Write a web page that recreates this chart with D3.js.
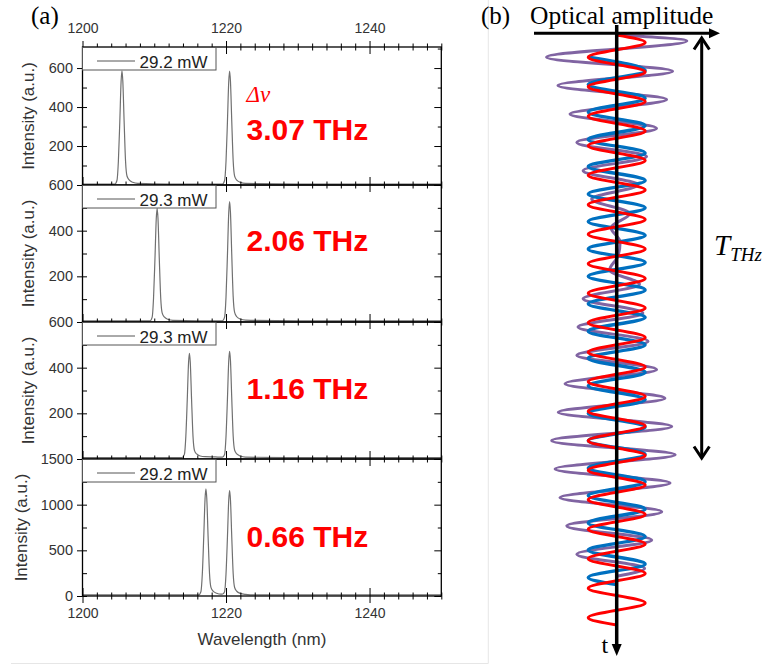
<!DOCTYPE html>
<html><head><meta charset="utf-8">
<script src="https://cdn.jsdelivr.net/npm/d3@7"></script>
<style>body{margin:0;background:#fff}svg{display:block}</style>
</head><body><svg id="c" width="771" height="666"></svg>
<script>
// ================= DATA =================
const xTickLabels = [1200, 1220, 1240];
const powerLabels = ["29.2 mW", "29.3 mW", "29.3 mW", "29.2 mW"];
const deltaLabels = ["3.07 THz", "2.06 THz", "1.16 THz", "0.66 THz"];
const yDomains = [[0, 708], [0, 600], [0, 600], [0, 1500]];
const yMajorTicks = [[0, 200, 400, 600], [0, 200, 400, 600], [0, 200, 400, 600], [0, 500, 1000, 1500]];
const yMinorTicks = [[100, 300, 500, 700], [100, 300, 500], [100, 300, 500], [250, 750, 1250]];
const yShownLabels = [[200, 400, 600], [200, 400, 600], [200, 400, 600], [0, 500, 1000, 1500]];

// spectra: [wavelength nm, intensity a.u.]
const spectrum1 = [[1200,5],[1204.5,5],[1204.8,23],[1205.0,122],[1205.2,327],[1205.38,532],[1205.5,586],[1205.62,532],[1205.8,327],[1206.0,122],[1206.2,46],[1206.5,26],[1207.0,14],[1207.7,8],[1212,5],
  [1219.5,5],[1219.8,23],[1220.0,122],[1220.2,327],[1220.38,531],[1220.5,585],[1220.62,531],[1220.8,327],[1221.0,122],[1221.2,46],[1221.5,25],[1222.0,14],[1222.7,8],[1230,5],[1250,5]];
const spectrum2 = [[1200,5],[1209.4,5],[1209.7,20],[1209.9,105],[1210.1,279],[1210.28,453],[1210.4,498],[1210.52,453],[1210.7,279],[1210.9,105],[1211.1,40],[1211.4,22],[1211.9,12],[1212.6,7],[1216,5],
  [1219.5,5],[1219.8,21],[1220.0,110],[1220.2,295],[1220.38,479],[1220.5,527],[1220.62,479],[1220.8,295],[1221.0,110],[1221.2,42],[1221.5,23],[1222.0,13],[1222.7,8],[1230,5],[1250,5]];
const spectrum3 = [[1200,6],[1213.9,6],[1214.2,20],[1214.4,99],[1214.6,261],[1214.78,423],[1214.9,463],[1215.02,423],[1215.2,261],[1215.4,99],[1215.6,38],[1215.9,22],[1216.4,13],[1217.1,10],[1218.5,9],
  [1219.5,8],[1219.8,20],[1220.0,100],[1220.2,265],[1220.38,430],[1220.5,471],[1220.62,430],[1220.8,265],[1221.0,100],[1221.2,39],[1221.5,22],[1222.0,13],[1222.7,8],[1230,6],[1250,6]];
const spectrum4 = [[1200,12],[1216.2,12],[1216.5,47],[1216.7,246],[1216.9,657],[1217.08,1067],[1217.2,1172],[1217.32,1067],[1217.5,657],[1217.7,246],[1217.9,94],[1218.2,53],[1218.7,30],[1219.3,20],
  [1219.55,22],[1219.8,47],[1220.0,243],[1220.2,647],[1220.38,1051],[1220.5,1154],[1220.62,1051],[1220.8,647],[1221.0,243],[1221.2,93],[1221.5,52],[1222.0,29],[1222.7,18],[1224,12],[1250,12]];
const spectra = [spectrum1, spectrum2, spectrum3, spectrum4];

// panel (b): optical field extrema [time in red optical cycles, amplitude]
const redWave = [[0,0],[0.25,1],[0.75,-1],[1.25,1],[1.75,-1],[2.25,1],[2.75,-1],[3.25,1],[3.75,-1],[4.25,1],[4.75,-1],[5.25,1],[5.75,-1],[6.25,1],[6.75,-1],[7.25,1],[7.75,-1],[8.25,1],[8.75,-1],[9.25,1],[9.75,-1],[10.25,1],[10.75,-1],[11.25,1],[11.75,-1],[12.25,1],[12.75,-1],[13.25,1],[13.75,-1],[14.25,1],[14.75,-1],[15.25,1],[15.75,-1],[16.25,1],[16.75,-1],[17.25,1],[17.75,-1],[18.25,1],[18.75,-1],[19.25,1],[19.75,-1],[20,0]];
const blueWave = [[0.75,-1],[1.21,1],[1.68,-1],[2.14,1],[2.61,-1],[3.07,1],[3.54,-1],[4.00,1],[4.46,-1],[4.93,1],[5.39,-1],[5.86,1],[6.32,-1],[6.79,1],[7.25,-1],[7.71,1],[8.18,-1],[8.64,1],[9.11,-1],[9.57,1],[10.04,-1],[10.50,1],[10.96,-1],[11.43,1],[11.89,-1],[12.36,1],[12.82,-1],[13.29,1],[13.75,-1],[14.21,1],[14.68,-1],[15.14,1],[15.61,-1],[16.07,1],[16.54,-1],[17.00,1],[17.46,-1],[17.93,1],[18.39,-1],[18.63,0]];
const purpleWave = [[0,0],[0.2,2.46],[0.75,-2.46],[1.23,1.96],[1.71,-2.06],[2.19,1.75],[2.68,-1.64],[3.16,1.40],[3.64,-1.40],[4.12,1.05],[4.60,-1.18],[5.08,0.75],[5.56,-0.88],[6.05,0.46],[6.53,-0.2],[7.01,0.12],[7.49,0.05],[7.97,-0.25],[8.45,0.8],[8.94,-1.18],[9.42,0.92],[9.90,-1.36],[10.38,1.1],[10.86,-1.4],[11.34,1.4],[11.82,-1.81],[12.31,1.69],[12.79,-2.05],[13.27,1.93],[13.75,-2.28],[14.23,2.05],[14.71,-2.16],[15.19,1.87],[15.68,-1.99],[16.16,1.58],[16.64,-1.75],[17.12,1.23],[17.60,-1.40],[18.08,0.98],[18.35,0]];

// ================= DRAW =================
const svg = d3.select('#c');
const SANS = "'Liberation Sans', Arial, sans-serif";
const SERIF = "'Liberation Serif', 'Times New Roman', serif";
const plotL = 82.5, plotR = 441.3;
const panelY = [[47, 185], [185, 322], [322, 459], [459, 596]];
const x = d3.scaleLinear().domain([1200, 1250]).range([plotL, plotR]);
const xMinor = x.ticks(25).filter(v => !xTickLabels.includes(v));

// light frame lines of the figure
svg.append('line').attr('x1', 488.3).attr('x2', 488.3).attr('y1', 0).attr('y2', 663.5).attr('stroke', '#e6e6e6');
svg.append('line').attr('x1', 11).attr('x2', 488.3).attr('y1', 663.5).attr('y2', 663.5).attr('stroke', '#e6e6e6');

function styleAxis(g, fs) {
  g.select('.domain').remove();
  g.selectAll('.tick line').attr('stroke', '#000').attr('stroke-width', 1);
  g.selectAll('.tick text').attr('fill', '#333').style('font-family', SANS).style('font-size', fs + 'px');
  g.attr('font-family', null).attr('font-size', null);
}
function addAxis(parent, tr, gen, fs) {
  const g = parent.append('g').attr('transform', tr).call(gen);
  styleAxis(g, fs || 14);
  return g;
}

const specLine = d3.line().x(d => x(d[0])).curve(d3.curveMonotoneX);
const defs = svg.append('defs');

panelY.forEach(([top, bot], i) => {
  const y = d3.scaleLinear().domain(yDomains[i]).range([bot, top]);
  const g = svg.append('g');
  defs.append('clipPath').attr('id', 'clip' + i).append('rect')
    .attr('x', plotL).attr('y', top).attr('width', plotR - plotL).attr('height', bot - top);

  // spectrum
  g.append('path').attr('clip-path', `url(#clip${i})`)
    .attr('d', specLine.y(d => y(d[1]))(spectra[i]))
    .attr('fill', 'none').attr('stroke', '#707070').attr('stroke-width', 1.2);

  // frame
  g.append('rect').attr('x', plotL).attr('y', top).attr('width', plotR - plotL).attr('height', bot - top)
    .attr('fill', 'none').attr('stroke', '#000').attr('stroke-width', 1.3);

  // bottom x ticks (crossing)
  const last = i === 3;
  addAxis(g, `translate(0,${bot})`, d3.axisBottom(x).tickValues(xTickLabels).tickSize(7).tickPadding(5.5)
    .tickFormat(last ? d3.format('d') : () => ''));
  addAxis(g, `translate(0,${bot})`, d3.axisBottom(x).tickValues(xTickLabels).tickSize(-8).tickFormat(() => ''));
  addAxis(g, `translate(0,${bot})`, d3.axisBottom(x).tickValues(xMinor).tickSize(3.5).tickFormat(() => ''));
  addAxis(g, `translate(0,${bot})`, d3.axisBottom(x).tickValues(xMinor).tickSize(-3.5).tickFormat(() => ''));
  if (i === 0) {
    addAxis(g, `translate(0,${top})`, d3.axisTop(x).tickValues(xTickLabels).tickSize(6).tickPadding(7.7).tickFormat(d3.format('d')));
    addAxis(g, `translate(0,${top})`, d3.axisTop(x).tickValues(xTickLabels).tickSize(-7).tickFormat(() => ''));
    addAxis(g, `translate(0,${top})`, d3.axisTop(x).tickValues(xMinor).tickSize(3.5).tickFormat(() => ''));
    addAxis(g, `translate(0,${top})`, d3.axisTop(x).tickValues(xMinor).tickSize(-3.5).tickFormat(() => ''));
  }

  // left y ticks
  const shown = yShownLabels[i];
  addAxis(g, `translate(${plotL},0)`, d3.axisLeft(y).tickValues(yMajorTicks[i]).tickSize(5.5).tickPadding(4)
    .tickFormat(v => shown.includes(v) ? d3.format('d')(v) : ''), 14.5);
  addAxis(g, `translate(${plotL},0)`, d3.axisLeft(y).tickValues(yMajorTicks[i]).tickSize(-4.5).tickFormat(() => ''));
  addAxis(g, `translate(${plotL},0)`, d3.axisLeft(y).tickValues(yMinorTicks[i].filter(v => v <= yDomains[i][1])).tickSize(-4.5).tickFormat(() => ''));
  // right y ticks (inward)
  addAxis(g, `translate(${plotR},0)`, d3.axisRight(y).tickValues(yMajorTicks[i]).tickSize(-7).tickFormat(() => ''));
  addAxis(g, `translate(${plotR},0)`, d3.axisRight(y).tickValues(yMinorTicks[i].filter(v => v <= yDomains[i][1])).tickSize(-3.5).tickFormat(() => ''));

  // legend
  const lg = g.append('g').attr('transform', `translate(${plotL},${top})`);
  lg.append('rect').attr('x', 0).attr('y', 0.5).attr('width', 133.5).attr('height', 22.5)
    .attr('fill', '#fff').attr('stroke', '#555').attr('stroke-width', 1);
  lg.append('line').attr('x1', 14.5).attr('x2', 52.5).attr('y1', 14).attr('y2', 14)
    .attr('stroke', '#555').attr('stroke-width', 1);
  lg.append('text').attr('x', 57).attr('y', 21).text(powerLabels[i])
    .style('font-family', SANS).style('font-size', '17px').attr('fill', '#222');

  // big red label
  const labelBase = [140, 250.7, 399.3, 547.3][i];
  g.append('text').attr('x', 246.5).attr('y', labelBase).text(deltaLabels[i])
    .style('font-family', SANS).style('font-size', '30px').style('font-weight', 'bold').attr('fill', '#ff0000');

  // y axis title
  const tx = last ? 27 : 34;
  g.append('text').attr('transform', `translate(${tx},${(top + bot) / 2}) rotate(-90)`)
    .attr('text-anchor', 'middle').text('Intensity (a.u.)')
    .style('font-family', SANS).style('font-size', '17px').attr('fill', '#333');
});

// Δν
svg.append('text').attr('x', 246.5).attr('y', 102).text('Δν')
  .style('font-family', SERIF).style('font-style', 'italic').style('font-size', '23px').attr('fill', '#ff0000');

// x axis title
svg.append('text').attr('x', 262).attr('y', 645).attr('text-anchor', 'middle').text('Wavelength (nm)')
  .style('font-family', SANS).style('font-size', '17px').attr('fill', '#333');

// panel labels
svg.append('text').attr('x', 31).attr('y', 24).text('(a)').style('font-family', SERIF).style('font-size', '25px');
svg.append('text').attr('x', 481).attr('y', 24).text('(b)').style('font-family', SERIF).style('font-size', '25px');

// ============ panel (b) ============
const gb = svg.append('g');
const tScale = d3.scaleLinear().domain([0, 20]).range([35, 625]);
const aScale = d3.scaleLinear().domain([-1, 1]).range([588.2, 645.2]);
const waveLine = d3.line().x(d => aScale(d[1])).y(d => tScale(d[0])).curve(d3.curveMonotoneY);
[[purpleWave, '#8064A2', 3], [blueWave, '#0070C0', 3.3], [redWave, '#FF0000', 3]].forEach(([d, c, w]) => {
  gb.append('path').attr('d', waveLine(d)).attr('fill', 'none').attr('stroke', c).attr('stroke-width', w);
});

// amplitude axis (horizontal arrow)
gb.append('line').attr('x1', 534).attr('x2', 711).attr('y1', 33.3).attr('y2', 33.3).attr('stroke', '#000').attr('stroke-width', 3);
gb.append('path').attr('d', 'M709,28.3 L720,33.3 L709,38.3 Z').attr('fill', '#000');
// time axis
gb.append('line').attr('x1', 616.7).attr('x2', 616.7).attr('y1', 25).attr('y2', 646).attr('stroke', '#000').attr('stroke-width', 3.5);
gb.append('path').attr('d', 'M611.7,644 L616.7,656 L621.7,644 Z').attr('fill', '#000');
// T_THz double arrow
gb.append('line').attr('x1', 701.7).attr('x2', 701.7).attr('y1', 39).attr('y2', 457).attr('stroke', '#000').attr('stroke-width', 3);
gb.append('path').attr('d', 'M694,49.5 L701.7,38 L709.4,49.5').attr('fill', 'none').attr('stroke', '#000').attr('stroke-width', 3);
gb.append('path').attr('d', 'M694,446.5 L701.7,458 L709.4,446.5').attr('fill', 'none').attr('stroke', '#000').attr('stroke-width', 3);

svg.append('text').attr('x', 530).attr('y', 24).text('Optical amplitude').style('font-family', SERIF).style('font-size', '25.5px');
svg.append('text').attr('x', 601.5).attr('y', 653).text('t').style('font-family', SERIF).style('font-size', '24px');
const tt = svg.append('text').attr('x', 714).attr('y', 255).style('font-family', SERIF).style('font-style', 'italic').style('font-size', '29px');
tt.append('tspan').text('T');
tt.append('tspan').attr('dy', 6).style('font-size', '19px').text('THz');
</script>
</body></html>
